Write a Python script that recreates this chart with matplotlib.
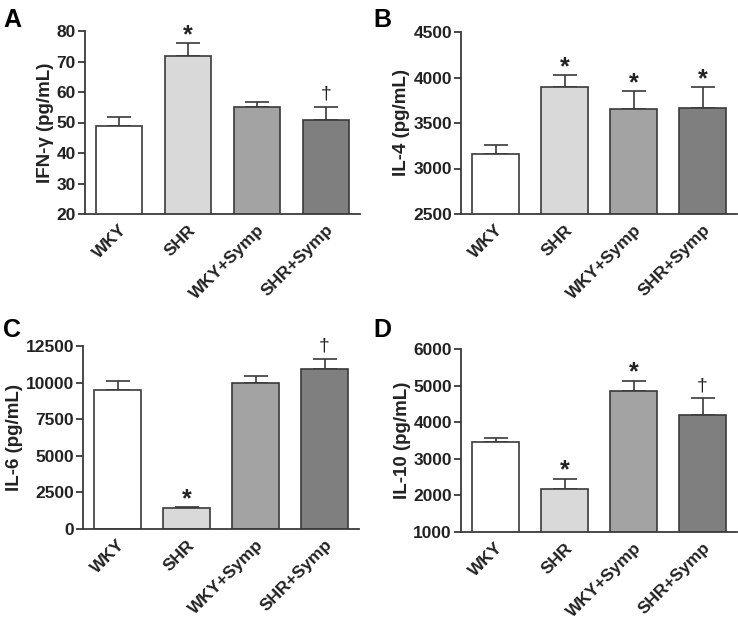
import numpy as np
import matplotlib.pyplot as plt

plt.rcParams['font.family'] = ['Liberation Sans', 'DejaVu Sans']
plt.rcParams['font.weight'] = 'bold'

groups = ['WKY', 'SHR', 'WKY+Symp', 'SHR+Symp']
colors = ['#ffffff', '#d9d9d9', '#a3a3a3', '#7f7f7f']

ifn_mean = [48.9, 71.8, 55.2, 50.7]
ifn_err = [2.8, 4.2, 1.4, 4.5]
ifn_marks = ['', '*', '', '†']

il4_mean = [3160, 3891, 3650, 3664]
il4_err = [102, 138, 204, 227]
il4_marks = ['', '*', '*', '*']

il6_mean = [9479, 1405, 9956, 10911]
il6_err = [634, 115, 498, 723]
il6_marks = ['', '*', '', '†']

il10_mean = [3470, 2175, 4844, 4189]
il10_err = [98, 284, 293, 464]
il10_marks = ['', '*', '*', '†']

panels = [
    ('A', 'IFN-γ (pg/mL)', ifn_mean, ifn_err, ifn_marks, (20, 80), np.arange(20, 81, 10)),
    ('B', 'IL-4 (pg/mL)', il4_mean, il4_err, il4_marks, (2500, 4500), np.arange(2500, 4501, 500)),
    ('C', 'IL-6 (pg/mL)', il6_mean, il6_err, il6_marks, (0, 12500), np.arange(0, 12501, 2500)),
    ('D', 'IL-10 (pg/mL)', il10_mean, il10_err, il10_marks, (1000, 6000), np.arange(1000, 6001, 1000)),
]

# axes boxes in pixel coords (left, top, right, bottom) of a 738x619 figure
boxes = [(85, 31, 360, 214), (461, 32, 737, 214), (83, 346, 359, 529), (461, 349, 737, 532)]
letter_pos = [(3, 8), (373, 8), (3, 318), (373, 318)]

fig = plt.figure(figsize=(7.38, 6.19), dpi=100)
edge = '#3a3a3a'

for (letter, ylabel, mean, err, marks, ylim, yticks), box, lp in zip(panels, boxes, letter_pos):
    l, t, r, b = box
    ax = fig.add_axes([l / 738, 1 - b / 619, (r - l) / 738, (b - t) / 619])
    x = np.arange(len(groups))
    ax.bar(x, mean, width=0.67, color=colors, edgecolor=edge, linewidth=1.2, zorder=2)
    ax.errorbar(x, mean, yerr=[np.zeros(len(mean)), err], fmt='none', ecolor=edge,
                elinewidth=1.2, capsize=8.5, capthick=1.2, zorder=1)
    for xi, m, e, mk in zip(x, mean, err, marks):
        if mk == '*':
            ax.annotate(mk, (xi, m + e), xytext=(0, -3), textcoords='offset points',
                        ha='center', va='bottom', fontsize=18, fontweight='bold', color='#222222')
        elif mk:
            ax.annotate(mk, (xi, m + e), xytext=(0, 3), textcoords='offset points',
                        ha='center', va='bottom', fontsize=14, fontweight='normal', color='#222222')
    ax.set_xlim(-0.5, 3.5)
    ax.set_ylim(*ylim)
    ax.set_yticks(yticks)
    ax.set_xticks(x)
    ax.set_xticklabels(groups, rotation=45, ha='right', rotation_mode='anchor')
    ax.set_ylabel(ylabel, fontsize=13.5, fontweight='bold', color='#222222', labelpad=2)
    for s in ['top', 'right']:
        ax.spines[s].set_visible(False)
    for s in ['left', 'bottom']:
        ax.spines[s].set_linewidth(1.3)
        ax.spines[s].set_color(edge)
    ax.tick_params(axis='y', length=5, width=1.3, pad=1.5, color=edge, labelsize=12.5,
                   labelcolor='#222222')
    ax.tick_params(axis='x', length=0, labelsize=12.5, labelcolor='#222222', pad=6)
    for lab in ax.get_yticklabels() + ax.get_xticklabels():
        lab.set_fontweight('bold')
    fig.text(lp[0] / 738, 1 - lp[1] / 619, letter, fontsize=18, fontweight='bold',
             ha='left', va='top')

fig.savefig('out.png', dpi=100)
